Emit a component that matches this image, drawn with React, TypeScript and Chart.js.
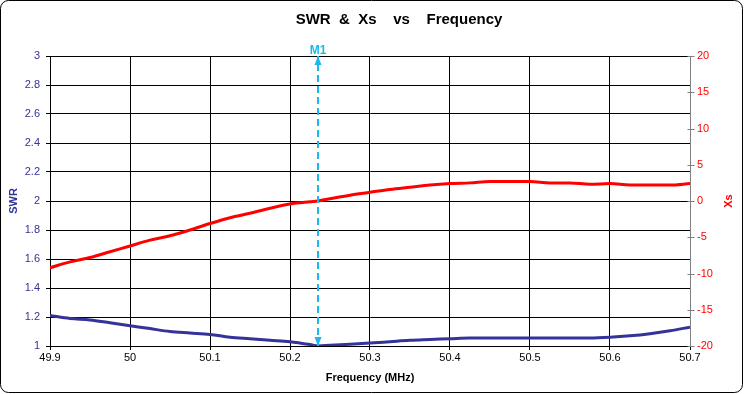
import React, { useEffect, useRef } from "react";
import { Chart, registerables } from "chart.js";

Chart.register(...registerables);

const freqMHz = [
  49.9, 49.925, 49.95, 49.975, 50.0, 50.025, 50.05, 50.075, 50.1, 50.125, 50.15,
  50.175, 50.2, 50.225, 50.235, 50.25, 50.275, 50.3, 50.325, 50.35, 50.375, 50.4, 50.425,
  50.45, 50.475, 50.5, 50.525, 50.55, 50.575, 50.6, 50.625, 50.65, 50.675, 50.7,
];
const swrValues = [
  1.21, 1.19, 1.18, 1.16, 1.14, 1.12, 1.1, 1.09, 1.08, 1.06, 1.05, 1.04, 1.03,
  1.01, 1.0, 1.005, 1.012, 1.02, 1.03, 1.04, 1.045, 1.05, 1.055, 1.055, 1.055, 1.055,
  1.055, 1.055, 1.055, 1.06, 1.07, 1.085, 1.105, 1.13,
];
const xsValues = [
  -9.2, -8.4, -7.8, -7.0, -6.2, -5.4, -4.8, -4.0, -3.1, -2.3, -1.7, -1.0, -0.4,
  -0.1, 0.0, 0.3, 0.8, 1.2, 1.6, 1.9, 2.2, 2.4, 2.5, 2.7, 2.7, 2.7, 2.5, 2.5, 2.3,
  2.4, 2.2, 2.2, 2.2, 2.4,
];
const markerFreq = 50.235;
const markerLabel = "M1";
const swrRange = [1, 3];
const xsRange = [-20, 20];
const freqRange = [49.9, 50.7];

const NAVY = "#333399";
const RED = "#FF0000";
const CYAN = "#1CB8EC";
const FONT = "'Liberation Sans', Arial, sans-serif";

const decorPlugin = {
  id: "decor",
  beforeDraw(chart: any) {
    const ctx = chart.ctx;
    ctx.save();
    ctx.fillStyle = "#ffffff";
    ctx.fillRect(0, 0, chart.width, chart.height);
    ctx.restore();
  },
  afterDraw(chart: any) {
    const ctx = chart.ctx;
    const { chartArea } = chart;
    const xs = chart.scales.x;
    const y = chart.scales.y;
    const y2 = chart.scales.y2;
    ctx.save();
    // outer rounded border
    const w = chart.width, h = chart.height, r = 8;
    ctx.strokeStyle = "#000";
    ctx.lineWidth = 1;
    ctx.beginPath();
    ctx.moveTo(0.5 + r, 0.5);
    ctx.lineTo(w - 1.5 - r, 0.5);
    ctx.arcTo(w - 1.5, 0.5, w - 1.5, 0.5 + r, r);
    ctx.lineTo(w - 1.5, h - 1.5 - r);
    ctx.arcTo(w - 1.5, h - 1.5, w - 1.5 - r, h - 1.5, r);
    ctx.lineTo(0.5 + r, h - 1.5);
    ctx.arcTo(0.5, h - 1.5, 0.5, h - 1.5 - r, r);
    ctx.lineTo(0.5, 0.5 + r);
    ctx.arcTo(0.5, 0.5, 0.5 + r, 0.5, r);
    ctx.closePath();
    ctx.stroke();

    // title
    ctx.fillStyle = "#000";
    ctx.font = `bold 15px ${FONT}`;
    ctx.textAlign = "center";
    ctx.textBaseline = "middle";
    ctx.fillText("SWR  &  Xs    vs    Frequency", 399, 20);

    // x axis title
    ctx.font = `bold 11px ${FONT}`;
    ctx.fillText("Frequency (MHz)", (chartArea.left + chartArea.right) / 2, 378);

    // left axis title
    ctx.save();
    ctx.translate(14, (chartArea.top + chartArea.bottom) / 2);
    ctx.rotate(-Math.PI / 2);
    ctx.fillStyle = NAVY;
    ctx.fillText("SWR", 0, 0);
    ctx.restore();

    // right axis title
    ctx.save();
    ctx.translate(729, (chartArea.top + chartArea.bottom) / 2);
    ctx.rotate(-Math.PI / 2);
    ctx.fillStyle = RED;
    ctx.fillText("Xs", 0, 0);
    ctx.restore();

    // right axis line and crossing ticks
    const rx = Math.round(chartArea.right) + 0.5;
    ctx.strokeStyle = "#808080";
    ctx.lineWidth = 1;
    ctx.beginPath();
    ctx.moveTo(rx, chartArea.top);
    ctx.lineTo(rx, chartArea.bottom);
    for (let v = xsRange[0]; v <= xsRange[1]; v += 5) {
      const py = Math.round(y2.getPixelForValue(v)) + 0.5;
      ctx.moveTo(rx - 3, py);
      ctx.lineTo(rx + 4, py);
    }
    ctx.stroke();

    // marker arrowheads and label
    const mx = xs.getPixelForValue(markerFreq);
    const topY = y.getPixelForValue(swrRange[1]);
    const botY = y.getPixelForValue(swrRange[0]);
    ctx.fillStyle = CYAN;
    ctx.beginPath();
    ctx.moveTo(mx, topY);
    ctx.lineTo(mx - 3.5, topY + 9);
    ctx.lineTo(mx + 3.5, topY + 9);
    ctx.closePath();
    ctx.fill();
    ctx.beginPath();
    ctx.moveTo(mx, botY);
    ctx.lineTo(mx - 3.5, botY - 9);
    ctx.lineTo(mx + 3.5, botY - 9);
    ctx.closePath();
    ctx.fill();
    ctx.font = `bold 12px ${FONT}`;
    ctx.textAlign = "center";
    ctx.textBaseline = "alphabetic";
    ctx.fillText(markerLabel, mx, topY - 2);
    ctx.restore();
  },
};

const fmt = (v: number) => String(Number(Number(v).toFixed(1)));

export default function App() {
  const ref = useRef<HTMLCanvasElement | null>(null);
  useEffect(() => {
    document.body.style.margin = "0";
    const canvas = ref.current;
    if (!canvas) return;
    const chart = new Chart(canvas, {
      type: "line",
      data: {
        datasets: [
          {
            label: "Marker",
            data: [
              { x: markerFreq, y: swrRange[0] },
              { x: markerFreq, y: swrRange[1] },
            ],
            borderColor: CYAN,
            borderWidth: 2,
            borderDash: [7, 4],
            pointRadius: 0,
            yAxisID: "y",
            order: 0,
          },
          {
            label: "SWR",
            data: freqMHz.map((f, i) => ({ x: f, y: swrValues[i] })),
            borderColor: NAVY,
            borderWidth: 3,
            pointRadius: 0,
            cubicInterpolationMode: "monotone",
            yAxisID: "y",
            order: 2,
          },
          {
            label: "Xs",
            data: freqMHz.map((f, i) => ({ x: f, y: xsValues[i] })),
            borderColor: RED,
            borderWidth: 3,
            pointRadius: 0,
            cubicInterpolationMode: "monotone",
            yAxisID: "y2",
            order: 1,
          },
        ],
      },
      options: {
        responsive: false,
        animation: false,
        devicePixelRatio: 1,
        layout: { padding: { top: 56, left: 0, right: 0, bottom: 0 } },
        plugins: {
          legend: { display: false },
          title: { display: false },
          tooltip: { enabled: false },
        },
        scales: {
          x: {
            type: "linear",
            min: freqRange[0],
            max: freqRange[1],
            afterFit: (s: any) => { s.height = 48; },
            afterBuildTicks: (s: any) => {
              const t = [];
              for (let i = 0; i <= 8; i++) t.push({ value: Number((freqRange[0] + i * 0.1).toFixed(1)) });
              s.ticks = t;
            },
            ticks: {
              color: "#000",
              font: { family: FONT, size: 11 },
              padding: 1,
              maxRotation: 0,
              autoSkip: false,
              callback: (v: any) => fmt(v),
            },
            grid: { color: "#000", lineWidth: 1, tickLength: 4 },
            border: { color: "#000" },
          },
          y: {
            type: "linear",
            position: "left",
            min: swrRange[0],
            max: swrRange[1],
            afterFit: (s: any) => { s.width = 50; },
            ticks: {
              stepSize: 0.2,
              color: NAVY,
              font: { family: FONT, size: 11 },
              padding: 6,
              callback: (v: any) => fmt(v),
            },
            grid: { color: "#000", lineWidth: 1, tickLength: 4 },
            border: { color: "#000" },
          },
          y2: {
            type: "linear",
            position: "right",
            min: xsRange[0],
            max: xsRange[1],
            afterFit: (s: any) => { s.width = 54; },
            ticks: {
              stepSize: 5,
              color: RED,
              font: { family: FONT, size: 11 },
              padding: 7,
              callback: (v: any) => fmt(v),
            },
            grid: { drawOnChartArea: false, drawTicks: false },
            border: { display: false },
          },
        },
      },
      plugins: [decorPlugin],
    });
    return () => chart.destroy();
  }, []);
  return <canvas ref={ref} width={744} height={394} style={{ display: "block" }} />;
}
